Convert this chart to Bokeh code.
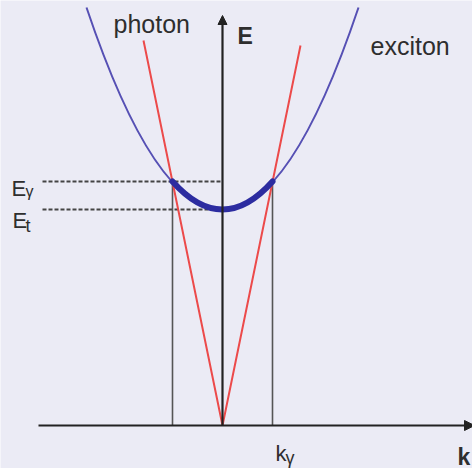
from bokeh.plotting import figure
from bokeh.models import Range1d, Arrow, NormalHead
from bokeh.core.properties import value
from bokeh.embed import file_html
from bokeh.resources import INLINE

# Energy levels and momentum (arbitrary units)
E_gamma = 24.4          # photon / exciton crossing energy
E_t = 21.6              # exciton band bottom
k_gamma = 5.0           # crossing momentum

# Photon light cone: end points and apex
photon_k = [-7.9, 0.0, 7.8]
photon_E = [38.5, 0.0, 38.0]

# Exciton dispersion: outer ends of the parabola
exciton_k_end = 13.6
exciton_E_end = 41.8

# Axis extents
k_axis = [-18.4, 25.2]
E_axis_top = 41.0
dash_start = -18.0

BG = "#ebebf5"
TXT = "#2e2e2e"
FONT = value("Liberation Sans")

p = figure(width=472, height=468, output_backend="svg", toolbar_location=None,
           x_range=Range1d(-22.2, 25.0), y_range=Range1d(-4.3, 42.5),
           min_border=0, background_fill_color=BG, border_fill_color=BG)
p.axis.visible = False
p.grid.visible = False
p.outline_line_color = None

# dashed energy markers
p.line([dash_start, 0.0], [E_gamma, E_gamma], line_color="#444444", line_width=2, line_dash="4 2")
p.line([dash_start, 0.0], [E_t, E_t], line_color="#444444", line_width=2, line_dash="4 2")

# vertical drops from the crossing points
p.segment(x0=[-k_gamma, k_gamma], y0=[E_gamma, E_gamma], x1=[-k_gamma, k_gamma], y1=[0, 0],
          line_color="#555555", line_width=1.6)

# photon dispersion (red light cone)
p.line(photon_k, photon_E, line_color="#ec4a4a", line_width=2)

# exciton parabola as a quadratic Bezier through its vertex
p.quadratic(x0=[-exciton_k_end], y0=[exciton_E_end], x1=[exciton_k_end], y1=[exciton_E_end],
            cx=[0.0], cy=[2 * E_t - exciton_E_end], line_color="#5650b4", line_width=2)
# highlighted part between the crossings
p.quadratic(x0=[-k_gamma], y0=[E_gamma], x1=[k_gamma], y1=[E_gamma],
            cx=[0.0], cy=[2 * E_t - E_gamma], line_color="#2c2ca0", line_width=6,
            line_cap="round")

# axes
p.add_layout(Arrow(end=NormalHead(size=9, fill_color="#222222", line_color="#222222"),
                   x_start=0.0, y_start=0.0, x_end=0.0, y_end=E_axis_top,
                   line_color="#222222", line_width=2.2))
p.add_layout(Arrow(end=NormalHead(size=10, fill_color="#222222", line_color="#222222"),
                   x_start=k_axis[0], y_start=0.0, x_end=k_axis[1], y_end=0.0,
                   line_color="#222222", line_width=2.2))

# labels
def label(x, y, t, size, style="normal"):
    p.text(x=[x], y=[y], text=[t], text_font=FONT, text_font_size=size,
           text_font_style=style, text_color=TXT, text_baseline="alphabetic",
           text_align="left")

label(-10.9, 40.2, "photon", "25px")
label(1.5, 39.0, "E", "23px", "bold")
label(14.8, 38.0, "exciton", "25px")
label(-21.1, 23.7, "E", "22px")
label(-19.7, 23.4, "γ", "16px")
label(-21.0, 20.5, "E", "22px")
label(-19.7, 20.0, "t", "18px")
label(5.3, -2.8, "k", "22px")
label(6.3, -3.2, "γ", "18px")
label(23.5, -3.1, "k", "23px", "bold")

open("out.html", "w").write(file_html(p, INLINE))
